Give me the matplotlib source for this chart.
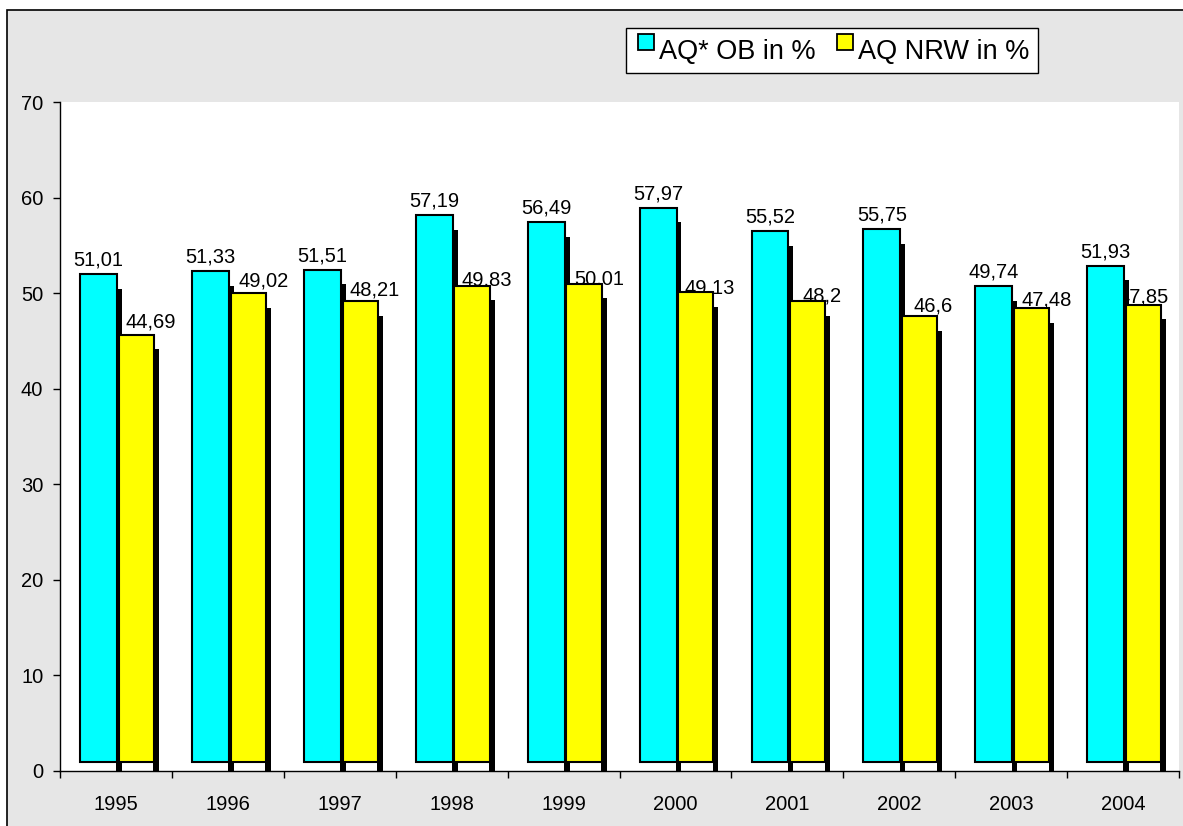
import matplotlib
matplotlib.use("Agg")
import matplotlib.pyplot as plt
from matplotlib.patches import Rectangle

plt.rcParams['font.family'] = ['Liberation Sans', 'DejaVu Sans']

# data
years = ['1995', '1996', '1997', '1998', '1999', '2000', '2001', '2002', '2003', '2004']
aq_ob = [51.01, 51.33, 51.51, 57.19, 56.49, 57.97, 55.52, 55.75, 49.74, 51.93]
aq_nrw = [44.69, 49.02, 48.21, 49.83, 50.01, 49.13, 48.2, 46.6, 47.48, 47.85]

# label nudges for the yellow series (pixels): excel placed them a bit irregularly
nrw_dx = [14, 15, 14, 15, 15, 14, 14, 13, 15, 0]
nrw_dy = [13, 12, 11, 6, 5, 4, 5, 10, 8, 8]

W, H = 1183, 826
fig = plt.figure(figsize=(W / 100, H / 100), dpi=100, facecolor='white')

# grey chart area with a thin black frame
fig.add_artist(Rectangle((7 / W, -0.02), 1.05, 1 - 10 / H + 0.02, transform=fig.transFigure,
                         facecolor='#e6e6e6', edgecolor='black', linewidth=1.2, zorder=-5))

ax = fig.add_axes([60 / W, 1 - 771 / H, (1179 - 60) / W, (771 - 102) / H])
ax.set_facecolor('white')
ax.set_xlim(-0.5, len(years) - 0.5)
ax.set_ylim(0, 70)

x = list(range(len(years)))
lift = 0.96      # front face of the 3d columns sits a bit above zero
drop = 0.57      # the dark side is a bit shorter than the front
sw = 0.05        # width of the dark side strip

cyan_left = [i - 0.32 for i in x]
yell_left = [i + 0.025 for i in x]

# cyan series: dark side then front face
ax.bar([l + 0.33 - 0.006 for l in cyan_left], [v - drop for v in aq_ob], width=sw,
       align='edge', color='black', linewidth=0, zorder=3)
ax.bar(cyan_left, aq_ob, width=0.33, bottom=lift, align='edge', color='#00ffff',
       edgecolor='black', linewidth=1.5, zorder=4)
# yellow series
ax.bar([l + 0.315 - 0.006 for l in yell_left], [v - drop for v in aq_nrw], width=sw,
       align='edge', color='black', linewidth=0, zorder=5)
ax.bar(yell_left, aq_nrw, width=0.315, bottom=lift, align='edge', color='#ffff00',
       edgecolor='black', linewidth=1.5, zorder=6)

for i, v in enumerate(aq_ob):
    ax.annotate(str(v).replace('.', ','), (cyan_left[i] + 0.165, v + lift),
                xytext=(0, 14), textcoords='offset pixels', ha='center', va='center',
                fontsize=14.5, zorder=2)
for i, v in enumerate(aq_nrw):
    ax.annotate(str(v).replace('.', ','), (yell_left[i] + 0.1575, v + lift),
                xytext=(nrw_dx[i], nrw_dy[i]), textcoords='offset pixels', ha='center',
                va='center', fontsize=14.5, zorder=2)

ax.spines['top'].set_visible(False)
ax.spines['right'].set_visible(False)
ax.spines['left'].set_linewidth(1)
ax.spines['bottom'].set_linewidth(1)

ax.set_yticks(range(0, 71, 10))
ax.tick_params(axis='y', direction='out', length=5, width=1, labelsize=14.5, pad=7)
ax.set_xticks([i - 0.5 for i in range(len(years) + 1)])
ax.set_xticklabels([])
ax.set_xticks(x, minor=True)
ax.set_xticklabels(years, minor=True)
ax.tick_params(axis='x', which='major', direction='out', length=5, width=1)
ax.tick_params(axis='x', which='minor', length=0, labelsize=14.5, pad=17)

# legend box drawn by hand to mimic the excel layout
fig.add_artist(Rectangle((626 / W, 1 - 73 / H), (1038 - 626) / W, 45 / H, transform=fig.transFigure,
                         facecolor='white', edgecolor='black', linewidth=1, zorder=5))
for px, col, txt, tx in [(638, '#00ffff', 'AQ* OB in %', 659), (837, '#ffff00', 'AQ NRW in %', 858)]:
    fig.add_artist(Rectangle((px / W, 1 - 50 / H), 16 / W, 16 / H, transform=fig.transFigure,
                             facecolor=col, edgecolor='black', linewidth=1.3, zorder=6))
    fig.text(tx / W, 1 - 59 / H, txt, fontsize=19.5, ha='left', va='baseline', zorder=6)

fig.savefig('out.png', dpi=100, facecolor='white')
